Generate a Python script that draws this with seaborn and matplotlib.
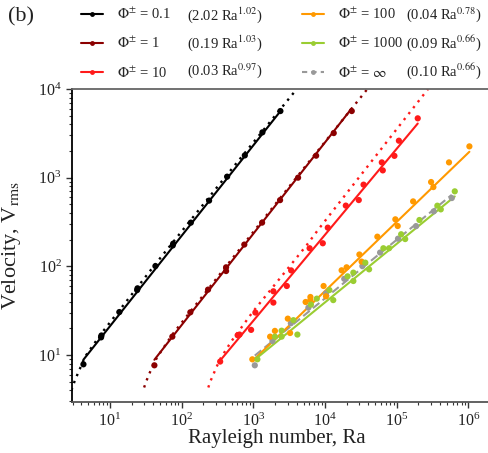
import numpy as np
import pandas as pd
import matplotlib
matplotlib.use("Agg")
import matplotlib.pyplot as plt
import seaborn as sns
from matplotlib.lines import Line2D

# ---------------- data ----------------
phi_labels = ["0.1", "1", "10", "100", "1000", r"$\infty$"]
fit_a = [2.02, 0.19, 0.03, 0.04, 0.09, 0.10]
fit_b = [1.02, 1.03, 0.97, 0.78, 0.66, 0.66]
fit_text = ["(2.02 Ra$^{1.02}$)", "(0.19 Ra$^{1.03}$)", "(0.03 Ra$^{0.97}$)",
            "(0.04 Ra$^{0.78}$)", "(0.09 Ra$^{0.66}$)", "(0.10 Ra$^{0.66}$)"]

phi01_ra = [4.26, 7.5, 7.6, 13.5, 23.9, 24.2, 43, 75, 76, 134, 241, 430, 759, 1336, 2380]
phi01_v = [7.85, 15.8, 16.6, 30.5, 54, 56.5, 100.7, 172, 180, 311, 551, 1026, 1783, 3245, 5640]

phi1_ra = [41.6, 74, 132, 233, 416, 416, 747, 1322, 2355, 4200, 7500, 13200, 23550]
phi1_v = [7.65, 16.1, 30.3, 54.6, 97.5, 88.5, 176, 311, 558, 1000, 1770, 3184, 5640]

phi10_ra = [344, 603, 640, 929, 1066, 1900, 1900, 2925, 3360, 6080, 9290, 10900,
            19450, 29500, 34400, 61800, 63800, 92700, 107000, 196000]
phi10_v = [8.43, 16.7, 17.0, 19.2, 30.1, 52.3, 39, 60, 90, 160, 182, 273,
           484, 559, 834, 1487, 1208, 1762, 2611, 4670]

phi100_ra = [966, 1711, 1995, 3020, 3250, 5350, 6240, 6240, 9530, 10300, 17000, 19950,
             30100, 32300, 53600, 95500, 103000, 169000, 301000, 324000, 535000, 1030000]
phi100_v = [8.94, 16.1, 18.7, 25.7, 17.7, 39.6, 45.1, 41.7, 60, 45.9, 90.2, 97.5,
            136, 113, 216, 339, 285, 540, 893, 783, 1487, 2254]

phi1000_ra = [1137, 1995, 2475, 2475, 3616, 4110, 6340, 7660, 11480, 13000, 20600, 24800,
              24800, 36400, 41100, 65000, 78100, 115000, 131000, 207000, 368000, 411000, 644000]
phi1000_v = [8.94, 16.1, 18.8, 16.1, 24.7, 17.0, 37.0, 43.2, 54.0, 41.6, 77.1, 84.9,
             68.3, 110, 92.5, 160, 160, 230, 203, 333, 483, 439, 701]

phiinf_ra = [1046, 1841, 3330, 5850, 10300, 18500, 33100, 58500, 104000, 186000, 328000, 585000]
phiinf_v = [7.65, 14.4, 22.8, 34.2, 49.6, 72.3, 100.7, 143, 205, 284, 417, 589]

# dotted theory curves
dot01_ra = [2.9, 3.19, 3.41, 3.62, 3.86, 4.5, 7.5, 43, 430, 4030]
dot01_v = [4.0, 5.0, 5.7, 6.4, 7.2, 9.6, 17.3, 106, 1080, 10000]
dot1_ra = [29.9, 31.8, 34.0, 36.2, 38.6, 45, 74, 416, 4200, 38900]
dot1_v = [4.3, 4.97, 5.7, 6.43, 7.2, 9.3, 17.0, 100, 1060, 10000]
dot10_ra = [235, 250, 268, 285, 303, 352, 500, 1000, 1618, 5560, 8070, 273000]
dot10_v = [4.3, 5.0, 5.7, 6.4, 7.2, 9.3, 14.5, 31.3, 50.5, 174, 261, 10000]

colors = ["#000000", "#8b0000", "#ff1a1a", "#ff9900", "#9acd32", "#999999"]

# ---------------- style ----------------
sns.set_theme(style="ticks")
plt.rcParams['font.family'] = 'serif'
plt.rcParams['font.serif'] = ['Liberation Serif', 'DejaVu Serif']
plt.rcParams['mathtext.fontset'] = 'stix'

fig = plt.figure(figsize=(4.89, 4.53), dpi=100)
ax = fig.add_axes([72/489, 1-402/453, 422/489, 313/453])
ax.set_xscale('log')
ax.set_yscale('log')

series = [(phi01_ra, phi01_v), (phi1_ra, phi1_v), (phi10_ra, phi10_v),
          (phi100_ra, phi100_v), (phi1000_ra, phi1000_v), (phiinf_ra, phiinf_v)]
dots = [(dot01_ra, dot01_v), (dot1_ra, dot1_v), (dot10_ra, dot10_v)]

for i, (dra, dv) in enumerate(dots):
    sns.lineplot(x=dra, y=dv, color=colors[i], lw=1.7, ls=(0, (1, 2.2)),
                 ax=ax, estimator=None, sort=False, zorder=2)

order = [0, 1, 2, 5, 3, 4]
for i in order:
    ra, v = series[i]
    ra = np.array(ra, float)
    rr = np.array([ra.min(), ra.max()])
    vv = fit_a[i] * rr ** fit_b[i]
    ls = (0, (4, 2)) if i == 5 else '-'
    sns.lineplot(x=rr, y=vv, color=colors[i], lw=1.5, ls=ls, ax=ax,
                 estimator=None, zorder=3)
    sns.scatterplot(x=ra, y=v, color=colors[i], s=20, edgecolor='none',
                    ax=ax, legend=False, zorder=4)

ax.set_xlim(2.95, 2.27e6)
ax.set_ylim(2.95, 1e4)

ax.spines['right'].set_visible(False)
ax.spines['top'].set_color('#666666')
ax.spines['top'].set_linewidth(1.3)
ax.spines['left'].set_color('black')
ax.spines['left'].set_linewidth(1.3)
ax.spines['bottom'].set_color('#555555')
ax.spines['bottom'].set_linewidth(1.3)
ax.tick_params(which='both', direction='out', colors='#333333', labelcolor='#222222')
ax.tick_params(which='major', length=4, width=1, labelsize=11.5)
ax.tick_params(which='minor', length=2.5, width=0.8)
ax.tick_params(axis='y', which='both', right=False)
ax.tick_params(axis='x', which='both', top=False)

ax.set_xlabel("Rayleigh number, Ra", fontsize=15, color='#222222')
ax.set_ylabel(r"Velocity, V$_{\rm rms}$", fontsize=16, color='#222222')
ax.xaxis.set_label_coords(0.485, -0.085)
ax.yaxis.set_label_coords(-0.115, 0.5)

# legend
handles = []
for i in range(6):
    ls = (0, (2.5, 2)) if i == 5 else '-'
    handles.append(Line2D([], [], color=colors[i], lw=1.5, ls=ls, marker='o',
                          markersize=3.5, markeredgewidth=0))
labels = [r"$\Phi^{\pm}$ = " + p for p in phi_labels]
fig.legend(handles, labels, loc='upper left', bbox_to_anchor=(81/489, 1-7/453),
           ncol=2, frameon=False, fontsize=10.5, borderpad=0, borderaxespad=0,
           handlelength=1.5, handletextpad=0.95, columnspacing=9.0,
           labelspacing=0.95)

row_y = [15, 43, 71]
for i in range(6):
    col = i // 3
    x = 187 if col == 0 else 406
    fig.text(x/489, 1 - row_y[i % 3]/453, fit_text[i], fontsize=10.5,
             ha='left', va='center', color='#222222')

fig.text(8/489, 1-17/453, "(b)", fontsize=16, ha='left', va='center', color='#222222')

fig.savefig("out.png", dpi=100)
